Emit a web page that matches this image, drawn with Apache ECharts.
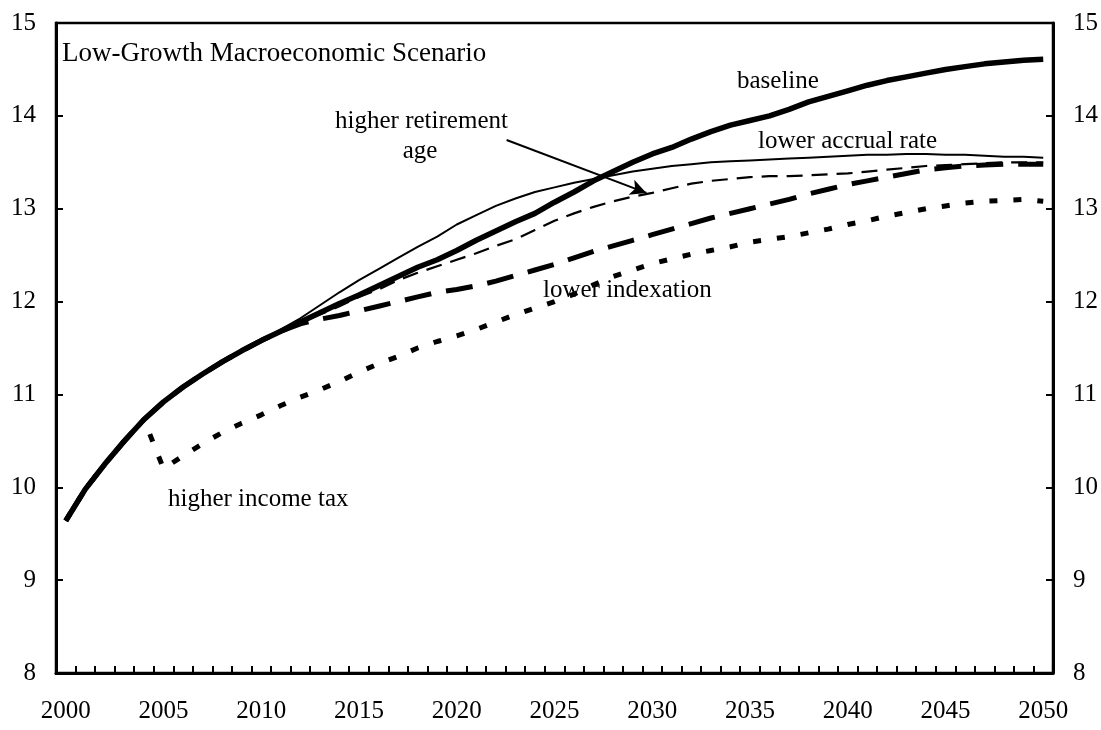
<!DOCTYPE html>
<html>
<head>
<meta charset="utf-8">
<script src="https://cdn.jsdelivr.net/npm/echarts@6/dist/echarts.min.js"></script>
<style>html,body{margin:0;padding:0;background:#fff;}#chart{width:1101px;height:730px;}</style>
</head>
<body>
<div id="chart"></div>
<script>
var years = [];
for (var y = 2000; y <= 2050; y++) years.push(y);
var yearLabels = years.map(String);

var baseline = [9.64, 9.98, 10.25, 10.5, 10.73, 10.92, 11.08, 11.22, 11.35, 11.47,
  11.58, 11.68, 11.78, 11.88, 11.98, 12.07, 12.17, 12.27, 12.37, 12.45,
  12.55, 12.66, 12.76, 12.86, 12.95, 13.07, 13.18, 13.3, 13.4, 13.5,
  13.59, 13.66, 13.75, 13.83, 13.9, 13.95, 14.0, 14.07, 14.15, 14.21,
  14.27, 14.33, 14.38, 14.42, 14.46, 14.5, 14.53, 14.56, 14.58, 14.6, 14.61];

var lowerAccrual = [9.64, 9.98, 10.25, 10.5, 10.73, 10.92, 11.08, 11.22, 11.35, 11.47,
  11.58, 11.7, 11.82, 11.96, 12.1, 12.23, 12.35, 12.47, 12.59, 12.7,
  12.83, 12.93, 13.03, 13.11, 13.18, 13.23, 13.28, 13.32, 13.36, 13.4,
  13.43, 13.46, 13.48, 13.5, 13.51, 13.52, 13.53, 13.54, 13.55, 13.56,
  13.57, 13.58, 13.58, 13.59, 13.59, 13.58, 13.58, 13.57, 13.56, 13.56, 13.55];

var higherRetirement = [9.64, 9.98, 10.25, 10.5, 10.73, 10.92, 11.08, 11.22, 11.35, 11.47,
  11.58, 11.68, 11.78, 11.86, 11.95, 12.05, 12.13, 12.23, 12.31, 12.38,
  12.45, 12.52, 12.6, 12.67, 12.77, 12.87, 12.95, 13.02, 13.08, 13.13,
  13.17, 13.22, 13.27, 13.3, 13.32, 13.34, 13.35, 13.35, 13.36, 13.37,
  13.38, 13.4, 13.42, 13.44, 13.46, 13.47, 13.48, 13.49, 13.5, 13.5, 13.5];

var lowerIndexation = [9.64, 9.98, 10.25, 10.5, 10.73, 10.92, 11.08, 11.22, 11.35, 11.47,
  11.58, 11.68, 11.76, 11.81, 11.85, 11.9, 11.95, 12.0, 12.05, 12.1,
  12.13, 12.17, 12.22, 12.28, 12.34, 12.4, 12.47, 12.54, 12.6, 12.66,
  12.72, 12.78, 12.84, 12.9, 12.95, 13.0, 13.05, 13.1, 13.16, 13.21,
  13.26, 13.3, 13.34, 13.38, 13.42, 13.44, 13.46, 13.47, 13.48, 13.48, 13.48];

var higherIncomeTax = [9.64, 9.98, 10.25, 10.5, 10.73, 10.2, 10.34, 10.47, 10.59, 10.69,
  10.78, 10.88, 10.97, 11.05, 11.14, 11.24, 11.33, 11.41, 11.5, 11.57,
  11.63, 11.7, 11.78, 11.86, 11.93, 12.0, 12.08, 12.18, 12.27, 12.34,
  12.41, 12.46, 12.51, 12.55, 12.59, 12.64, 12.67, 12.7, 12.74, 12.78,
  12.83, 12.87, 12.92, 12.96, 13.0, 13.03, 13.06, 13.08, 13.09, 13.1, 13.08];

var yTicks = { min: 8, max: 15, interval: 1 };

// arrow annotation (year, value) from "higher retirement age" label to its line
var arrowFrom = [2022.55, 13.74];
var arrowTo = [2029.7, 13.17];

function zip(vals) { return years.map(function (yr, i) { return [yr, vals[i]]; }); }

var FONT = '"Liberation Serif", "Times New Roman", serif';
var chart = echarts.init(document.getElementById('chart'));

function yAxisDef(pos) {
  return {
    type: 'value', position: pos, min: yTicks.min, max: yTicks.max, interval: yTicks.interval,
    axisLine: { show: true, lineStyle: { color: '#000', width: 3 } },
    axisTick: { show: true, inside: true, length: 7, lineStyle: { color: '#000', width: 2 } },
    axisLabel: { margin: 20, color: '#000', fontSize: 25, fontFamily: FONT },
    splitLine: { show: false }
  };
}

function lineSeries(name, vals, width, type, z) {
  return {
    name: name, type: 'line', xAxisIndex: 1, yAxisIndex: 0,
    data: zip(vals), showSymbol: false, symbol: 'none', z: z,
    lineStyle: { color: '#000', width: width, type: type, cap: 'butt', join: 'round' }
  };
}

function label(text, x, y, align, size) {
  return { type: 'text', x: x, y: y, z: 100,
    style: { text: text, align: align || 'left', verticalAlign: 'middle',
      fill: '#000', fontSize: size || 25, fontFamily: FONT } };
}

var option = {
  animation: false,
  backgroundColor: '#fff',
  grid: { left: 56, right: 48, top: 23, bottom: 57, show: true, borderColor: '#000', borderWidth: 2.5, containLabel: false },
  xAxis: [
    {
      type: 'category', data: yearLabels, boundaryGap: true, position: 'bottom',
      axisLine: { show: true, lineStyle: { color: '#000', width: 3 } },
      axisTick: { show: true, inside: true, length: 7, interval: 0, alignWithLabel: false, lineStyle: { color: '#000', width: 2 } },
      axisLabel: { interval: 4, margin: 26, color: '#000', fontSize: 25, fontFamily: FONT },
      splitLine: { show: false }
    },
    { type: 'value', min: 1999.5, max: 2050.5, show: false }
  ],
  yAxis: [yAxisDef('left'), yAxisDef('right')],
  series: [
    lineSeries('higher income tax', higherIncomeTax, 5, [8, 16], 2),
    lineSeries('lower indexation', lowerIndexation, 5, [27, 15], 3),
    lineSeries('higher retirement age', higherRetirement, 2.2, [16, 9], 4),
    lineSeries('lower accrual rate', lowerAccrual, 2, 'solid', 5),
    Object.assign(lineSeries('baseline', baseline, 5.5, 'solid', 6), {
      markLine: {
        silent: true, symbol: ['none', 'arrow'], symbolSize: [12, 16],
        label: { show: false },
        lineStyle: { color: '#000', width: 2, type: 'solid' },
        data: [[{ coord: arrowFrom }, { coord: arrowTo }]]
      }
    })
  ],
  graphic: [
    label('Low-Growth Macroeconomic Scenario', 62, 53.5, 'left', 27),
    label('baseline', 737, 81.5),
    label('lower accrual rate', 758, 141.5),
    label('higher retirement', 421.5, 121.5, 'center'),
    label('age', 420, 151.5, 'center'),
    label('lower indexation', 543, 290.5),
    label('higher income tax', 168, 499.5)
  ]
};
chart.setOption(option);
</script>
</body>
</html>
